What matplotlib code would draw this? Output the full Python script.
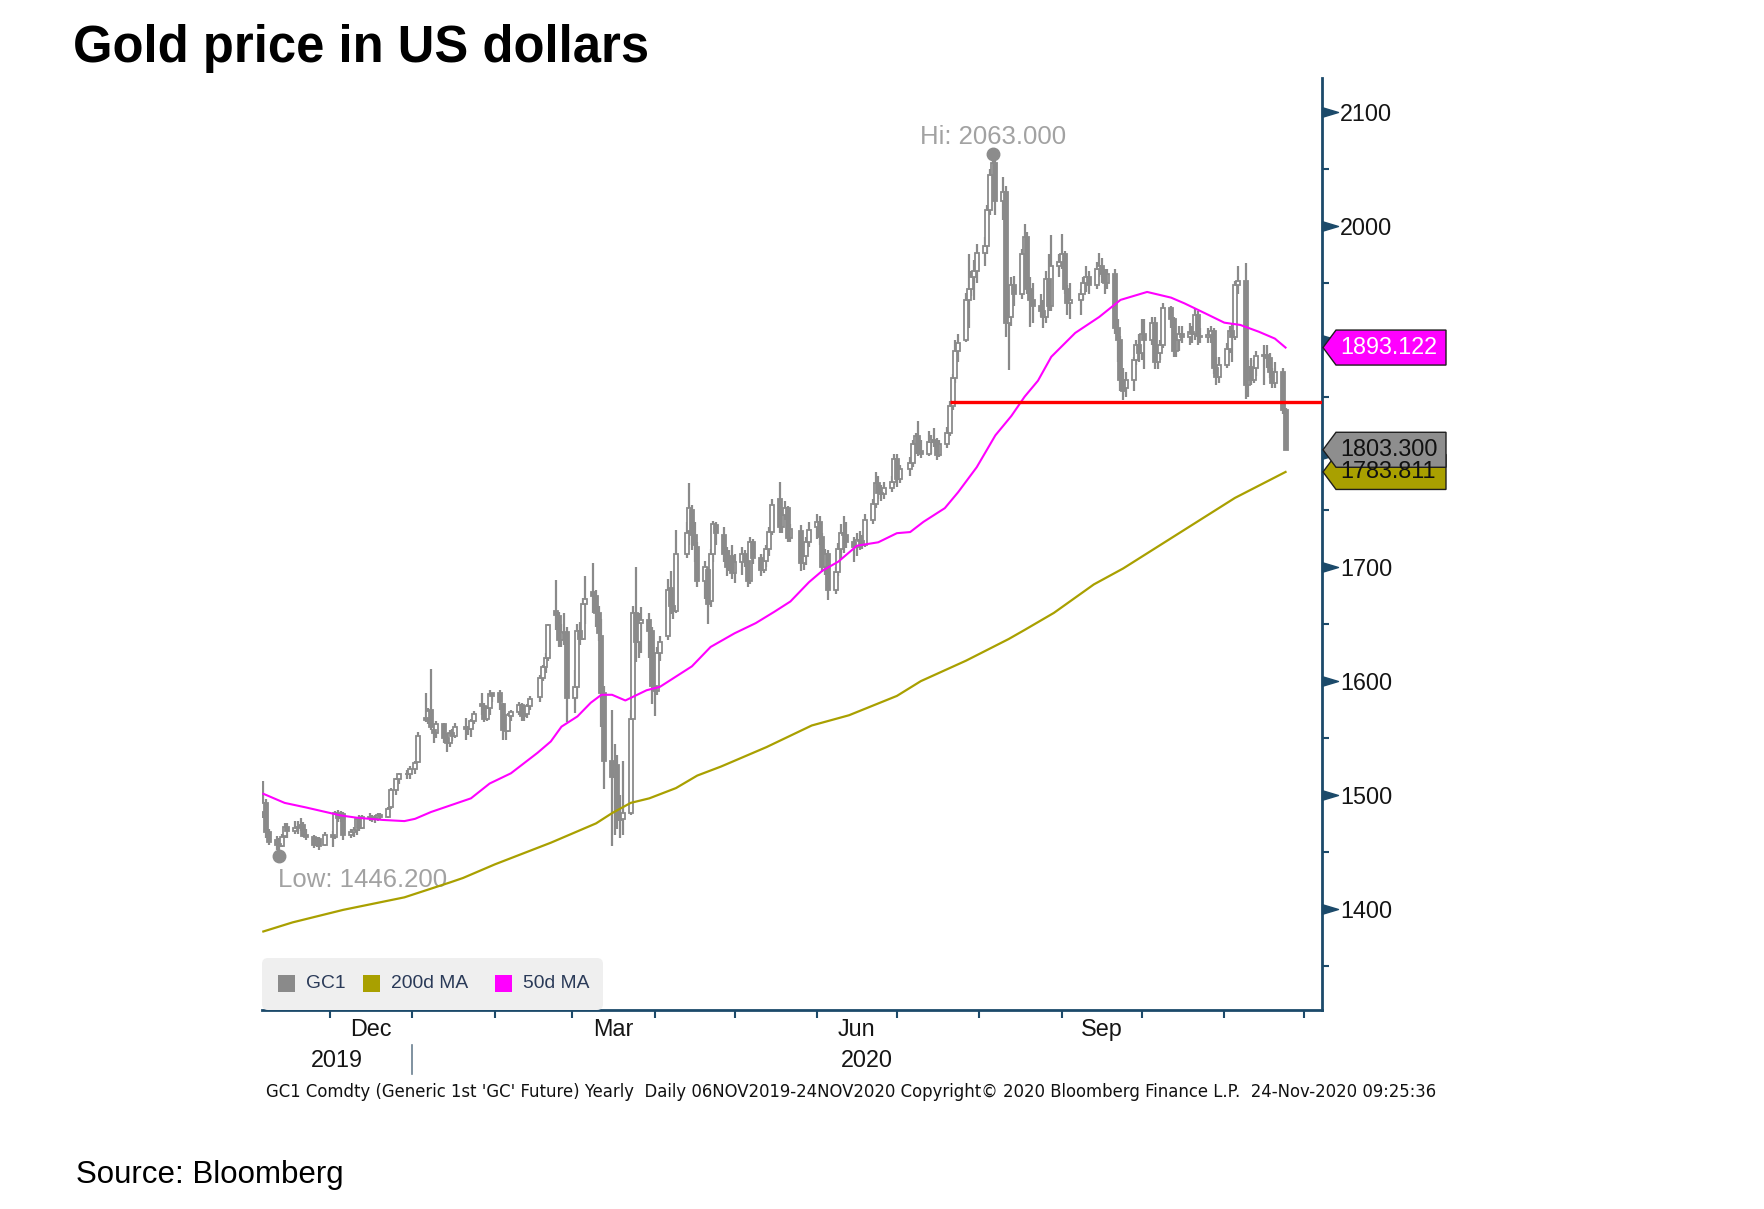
import numpy as np
import pandas as pd
import matplotlib
matplotlib.use("Agg")
import matplotlib.pyplot as plt
import matplotlib.dates as mdates
from matplotlib import font_manager as fm
from matplotlib.patches import Polygon, FancyBboxPatch, Rectangle
from matplotlib.path import Path
from matplotlib.transforms import blended_transform_factory, Affine2D

# ---------------- data ----------------
start_date = "2019-11-06"
end_date = "2020-11-24"
holidays = ["2019-11-28", "2019-12-25", "2020-01-01", "2020-01-20", "2020-02-17",
            "2020-04-10", "2020-05-25", "2020-07-03", "2020-09-07"]

opens = [
    1485, 1493, 1467, 1460, 1457, 1455, 1464, 1472, 1468, 1471, 1472, 1474, 1465, 1463, 1456, 1461, 1456,
    1465, 1463, 1484, 1480, 1483, 1465, 1467, 1469, 1479, 1471, 1481, 1480, 1480, 1479, 1482, 1481, 1489, 1504, 1514, 1518, 1518,
    1523, 1529, 1568, 1566, 1575, 1557, 1554, 1562, 1550, 1546, 1554, 1552, 1560, 1558, 1558, 1565, 1580, 1578, 1567, 1576, 1590,
    1590, 1580, 1556, 1556, 1569, 1573, 1579, 1569, 1571, 1578, 1586, 1603, 1612, 1620, 1662, 1657, 1636, 1642, 1643,
    1585, 1595, 1644, 1637, 1668, 1678, 1675, 1660, 1640, 1590, 1530, 1516, 1526, 1478, 1479, 1484, 1567, 1660, 1634, 1651, 1654, 1644,
    1596, 1591, 1625, 1640, 1682, 1666, 1662, 1712, 1732, 1750, 1728, 1718, 1688, 1698, 1670, 1712, 1737, 1728, 1712, 1700, 1710,
    1695, 1705, 1712, 1706, 1688, 1722, 1708, 1698, 1706, 1716, 1731, 1760, 1735, 1746, 1752, 1726, 1732, 1704, 1710, 1722,
    1735, 1740, 1727, 1700, 1712, 1680, 1696, 1716, 1730, 1728, 1722, 1718, 1724, 1723, 1720, 1742, 1756, 1774, 1765, 1764, 1770, 1775,
    1795, 1778, 1786, 1792, 1808, 1815, 1802, 1800, 1810, 1812, 1810, 1799, 1808, 1818, 1842, 1866, 1890, 1900, 1935, 1945, 1955, 1960,
    1976, 1982, 2014, 2045, 2055, 2022, 2030, 1915, 1920, 1948, 1940, 1975, 1990, 1945, 1935, 1930, 1925, 1920, 1953, 1930, 1965,
    1968, 1975, 1945, 1932, 1935, 1940, 1950, 1955, 1948, 1962, 1965, 1958, 1950, 1958, 1910, 1900, 1865, 1858, 1865, 1882, 1895,
    1888, 1905, 1900, 1915, 1880, 1888, 1895, 1928, 1918, 1890, 1900, 1905, 1902, 1907, 1905, 1922, 1903, 1902, 1904, 1908, 1875, 1867,
    1878, 1892, 1908, 1902, 1948, 1952, 1860, 1876, 1865, 1875, 1886, 1887, 1884, 1872, 1862, 1872, 1838,
]
highs = [
    1512, 1496, 1470, 1464, 1462, 1466, 1475, 1475, 1477, 1477, 1480, 1476, 1470, 1465, 1463, 1463, 1467,
    1468, 1486, 1487, 1486, 1485, 1470, 1472, 1481, 1482, 1482, 1484, 1482, 1482, 1484, 1484, 1489, 1506, 1515, 1519, 1522, 1525,
    1530, 1555, 1590, 1576, 1611, 1560, 1565, 1563, 1554, 1557, 1558, 1563, 1568, 1561, 1567, 1574, 1590, 1581, 1578, 1592, 1590,
    1592, 1581, 1561, 1572, 1575, 1582, 1581, 1573, 1580, 1587, 1605, 1614, 1625, 1650, 1689, 1661, 1650, 1660, 1648,
    1610, 1650, 1652, 1673, 1692, 1704, 1680, 1666, 1655, 1596, 1575, 1545, 1535, 1500, 1530, 1575, 1666, 1700, 1660, 1665, 1660, 1648,
    1608, 1630, 1640, 1690, 1697, 1672, 1733, 1740, 1774, 1755, 1740, 1722, 1706, 1700, 1716, 1741, 1740, 1735, 1718, 1715, 1720,
    1712, 1718, 1715, 1710, 1727, 1725, 1712, 1712, 1720, 1735, 1760, 1775, 1750, 1758, 1754, 1738, 1737, 1716, 1727, 1740,
    1747, 1745, 1730, 1716, 1715, 1700, 1721, 1738, 1745, 1740, 1727, 1730, 1732, 1728, 1747, 1760, 1784, 1780, 1772, 1775, 1780, 1800,
    1800, 1790, 1797, 1812, 1818, 1829, 1812, 1820, 1816, 1822, 1814, 1812, 1823, 1846, 1870, 1900, 1905, 1941, 1975, 1960, 1970, 1984,
    1990, 2018, 2050, 2063, 2060, 2043, 2035, 1945, 1955, 1956, 1980, 2002, 1995, 1955, 1950, 1940, 1935, 1960, 1975, 1992, 1975,
    1993, 1978, 1948, 1950, 1945, 1955, 1965, 1960, 1968, 1976, 1972, 1962, 1962, 1962, 1918, 1903, 1875, 1872, 1885, 1900, 1905,
    1918, 1918, 1920, 1920, 1892, 1900, 1932, 1930, 1920, 1905, 1912, 1912, 1915, 1912, 1928, 1925, 1910, 1910, 1912, 1910, 1885, 1885,
    1897, 1912, 1915, 1952, 1965, 1967, 1882, 1884, 1882, 1890, 1895, 1895, 1888, 1875, 1880, 1875, 1840,
]
lows = [
    1480, 1462, 1456, 1452, 1446.2, 1454, 1462, 1462, 1466, 1466, 1468, 1463, 1460, 1453, 1454, 1452, 1455,
    1454, 1461, 1476, 1476, 1460, 1462, 1463, 1465, 1468, 1470, 1477, 1476, 1475, 1477, 1478, 1480, 1488, 1500, 1510, 1514, 1514,
    1518, 1528, 1564, 1562, 1557, 1546, 1550, 1546, 1538, 1542, 1547, 1550, 1548, 1553, 1551, 1562, 1570, 1564, 1565, 1570, 1582,
    1575, 1548, 1548, 1555, 1565, 1570, 1565, 1565, 1568, 1575, 1582, 1600, 1607, 1618, 1645, 1630, 1630, 1632, 1564,
    1572, 1585, 1632, 1636, 1650, 1660, 1648, 1635, 1560, 1505, 1455, 1465, 1470, 1462, 1465, 1482, 1567, 1617, 1620, 1625, 1620, 1580,
    1569, 1588, 1618, 1636, 1659, 1655, 1660, 1708, 1720, 1715, 1705, 1683, 1672, 1650, 1665, 1705, 1720, 1705, 1692, 1697, 1690,
    1686, 1693, 1700, 1683, 1685, 1703, 1692, 1695, 1700, 1710, 1728, 1730, 1730, 1742, 1722, 1722, 1697, 1698, 1702, 1718,
    1725, 1720, 1696, 1693, 1671, 1677, 1692, 1708, 1713, 1717, 1705, 1710, 1715, 1716, 1718, 1738, 1752, 1760, 1758, 1760, 1766, 1772,
    1771, 1774, 1780, 1788, 1800, 1798, 1796, 1798, 1800, 1806, 1794, 1797, 1805, 1815, 1838, 1862, 1880, 1898, 1910, 1938, 1935, 1950,
    1965, 1975, 2010, 2035, 2010, 2005, 1902, 1873, 1912, 1930, 1936, 1970, 1940, 1911, 1915, 1920, 1910, 1915, 1925, 1925, 1955,
    1962, 1940, 1922, 1918, 1922, 1935, 1942, 1940, 1945, 1955, 1950, 1940, 1945, 1905, 1880, 1855, 1847, 1850, 1855, 1878, 1880,
    1882, 1874, 1895, 1874, 1874, 1882, 1893, 1910, 1885, 1885, 1890, 1897, 1895, 1897, 1900, 1895, 1897, 1897, 1897, 1870, 1860, 1862,
    1875, 1888, 1880, 1900, 1940, 1848, 1850, 1860, 1862, 1868, 1860, 1875, 1866, 1858, 1858, 1835, 1803,
]
closes = [
    1493, 1467, 1459, 1456, 1455, 1463, 1472, 1468, 1471, 1472, 1474, 1464, 1463, 1456, 1461, 1455, 1465,
    1463, 1484, 1480, 1483, 1465, 1467, 1469, 1479, 1471, 1481, 1480, 1480, 1479, 1482, 1481, 1488, 1504, 1514, 1518, 1518, 1523,
    1528, 1552, 1566, 1574, 1560, 1554, 1562, 1550, 1546, 1554, 1552, 1560, 1558, 1558, 1565, 1571, 1578, 1567, 1576, 1589, 1587,
    1582, 1557, 1557, 1570, 1573, 1579, 1569, 1571, 1578, 1584, 1603, 1612, 1620, 1649, 1658, 1636, 1643, 1642, 1585,
    1595, 1644, 1637, 1668, 1672, 1675, 1660, 1642, 1590, 1530, 1516, 1526, 1478, 1479, 1484, 1567, 1660, 1634, 1651, 1654, 1644, 1596,
    1591, 1625, 1634, 1680, 1666, 1662, 1712, 1730, 1752, 1728, 1720, 1688, 1700, 1668, 1712, 1738, 1730, 1712, 1700, 1708, 1695,
    1705, 1712, 1706, 1688, 1722, 1708, 1698, 1706, 1716, 1731, 1755, 1735, 1746, 1752, 1726, 1734, 1704, 1710, 1722, 1733,
    1740, 1727, 1700, 1712, 1680, 1696, 1716, 1730, 1728, 1722, 1718, 1724, 1723, 1720, 1742, 1756, 1774, 1765, 1764, 1770, 1775, 1795,
    1778, 1786, 1792, 1808, 1815, 1802, 1800, 1810, 1812, 1810, 1799, 1808, 1818, 1842, 1866, 1890, 1897, 1935, 1945, 1955, 1960, 1976,
    1982, 2014, 2045, 2055, 2022, 2030, 1915, 1920, 1948, 1940, 1975, 1990, 1945, 1935, 1930, 1925, 1920, 1953, 1930, 1965, 1968,
    1975, 1945, 1932, 1935, 1940, 1950, 1955, 1948, 1962, 1965, 1958, 1950, 1958, 1910, 1900, 1865, 1855, 1865, 1882, 1895, 1888,
    1905, 1900, 1915, 1880, 1888, 1895, 1928, 1918, 1890, 1900, 1905, 1902, 1907, 1905, 1922, 1903, 1902, 1904, 1908, 1875, 1867, 1878,
    1892, 1908, 1902, 1948, 1952, 1860, 1876, 1865, 1875, 1886, 1887, 1884, 1872, 1862, 1872, 1838, 1803.3,
]

ma50_dates = ["2019-11-06", "2019-11-14", "2019-11-22", "2019-12-05", "2019-12-11", "2019-12-21",
              "2019-12-29", "2020-01-02", "2020-01-08", "2020-01-18", "2020-01-23", "2020-01-30",
              "2020-02-07", "2020-02-17", "2020-02-22", "2020-02-26", "2020-03-03", "2020-03-08",
              "2020-03-12", "2020-03-16", "2020-03-21", "2020-03-29", "2020-04-03", "2020-04-09",
              "2020-04-15", "2020-04-22", "2020-05-01", "2020-05-09", "2020-05-16", "2020-05-22",
              "2020-05-29", "2020-06-03", "2020-06-09", "2020-06-16", "2020-06-24", "2020-07-01",
              "2020-07-06", "2020-07-11", "2020-07-19", "2020-07-24", "2020-07-31", "2020-08-07",
              "2020-08-13", "2020-08-18", "2020-08-23", "2020-08-28", "2020-09-06", "2020-09-15",
              "2020-09-23", "2020-10-03", "2020-10-12", "2020-10-17", "2020-10-25", "2020-11-01",
              "2020-11-07", "2020-11-14", "2020-11-20", "2020-11-24"]
ma50_values = [1501, 1493, 1489, 1482, 1480, 1478,
               1477, 1479, 1485, 1493, 1497, 1510,
               1519, 1537, 1547, 1560, 1569, 1581,
               1588, 1588, 1583, 1592, 1595, 1604,
               1613, 1630, 1642, 1651, 1661, 1670,
               1687, 1697, 1705, 1719, 1722, 1730,
               1731, 1740, 1752, 1766, 1788, 1816,
               1833, 1850, 1864, 1885, 1906, 1920,
               1935, 1942, 1937, 1932, 1923, 1915,
               1913, 1907, 1901, 1893.122]

ma200_dates = ["2019-11-06", "2019-11-17", "2019-12-06", "2019-12-29", "2020-01-15", "2020-01-20",
               "2020-02-01", "2020-02-22", "2020-03-10", "2020-03-16", "2020-03-23", "2020-03-30",
               "2020-04-09", "2020-04-17", "2020-04-26", "2020-05-13", "2020-05-30", "2020-06-13",
               "2020-07-01", "2020-07-10", "2020-07-27", "2020-08-12", "2020-08-18", "2020-08-29",
               "2020-09-07", "2020-09-13", "2020-09-24", "2020-10-15", "2020-11-05", "2020-11-24"]
ma200_values = [1380, 1388, 1399, 1410, 1423, 1427,
                1439, 1458, 1475, 1484, 1493, 1497,
                1506, 1517, 1525, 1542, 1561, 1570,
                1587, 1600, 1618, 1637, 1645, 1660,
                1675, 1685, 1699, 1730, 1761, 1783.811]

support_level = 1845.5
support_start = "2020-07-21"
hi_date, hi_value = "2020-08-06", 2063.000
low_date, low_value = "2019-11-12", 1446.200
last_price = 1803.300

y_major = [1400, 1500, 1600, 1700, 1800, 1900, 2000, 2100]
y_major_labels = ["1400", "1500", "1600", "1700", "", "", "2000", "2100"]
y_minor = [1350, 1450, 1550, 1650, 1750, 1850, 1950, 2050]
month_labels = ["Dec", "Mar", "Jun", "Sep"]
month_label_dates = [("2019-12-01", "2020-01-01"), ("2020-03-01", "2020-04-01"),
                     ("2020-06-01", "2020-07-01"), ("2020-09-01", "2020-10-01")]
year_labels = ["2019", "2020"]
legend_labels = ["GC1", "200d MA", "50d MA"]
title = "Gold price in US dollars"
source = "Source: Bloomberg"
footer = ("GC1 Comdty (Generic 1st 'GC' Future) Yearly  Daily 06NOV2019-24NOV2020 "
          "Copyright\u00a9 2020 Bloomberg Finance L.P.  24-Nov-2020 09:25:36")

# ---------------- styling ----------------
W, H = 1764, 1209
NAVY = "#1c4a6a"
GRAY = "#8a8a8a"
MAGENTA = "#ff00ff"
OLIVE = "#a9a000"

names = {f.name for f in fm.fontManager.ttflist}
if "Liberation Sans Narrow" in names:
    NARROW, NS = "Liberation Sans Narrow", 1.0
else:
    NARROW, NS = "Liberation Sans", 0.84
REG = "Liberation Sans" if "Liberation Sans" in names else "DejaVu Sans"

fig = plt.figure(figsize=(W / 100, H / 100), dpi=100)
fig.patch.set_facecolor("white")
PX = Affine2D().scale(1, -1).translate(0, H)  # pixel coords (top-left origin) -> display

ax = fig.add_axes([262 / W, 1 - 1010 / H, (1322 - 262) / W, (1010 - 78) / H])

dates = pd.bdate_range(start_date, end_date, freq="C", holidays=holidays)
n = min(len(dates), len(closes))
x = mdates.date2num(dates[:n])
o = np.array(opens[:n], float)
h = np.array(highs[:n], float)
l = np.array(lows[:n], float)
c = np.array(closes[:n], float)
up = c >= o

ax.vlines(x, l, h, color=GRAY, lw=1.6, zorder=2)
bot = np.minimum(o, c)
hgt = np.maximum(np.abs(c - o), 0.6)
ax.bar(x[up], hgt[up], bottom=bot[up], width=1.5, facecolor="white",
       edgecolor=GRAY, linewidth=1.3, zorder=3)
ax.bar(x[~up], hgt[~up], bottom=bot[~up], width=1.5, facecolor=GRAY,
       edgecolor=GRAY, linewidth=1.3, zorder=3)

ax.plot(mdates.date2num(pd.to_datetime(ma200_dates)), ma200_values, color=OLIVE, lw=1.6, zorder=4)
ax.plot(mdates.date2num(pd.to_datetime(ma50_dates)), ma50_values, color=MAGENTA, lw=1.5, zorder=4)

x_left = mdates.date2num(pd.Timestamp(start_date)) - 0.5
x_right = mdates.date2num(pd.Timestamp("2020-12-07")) + 0.7
ax.set_xlim(x_left, x_right)
ax.set_ylim(1311, 2130)

ax.plot([mdates.date2num(pd.Timestamp(support_start)), x_right], [support_level, support_level],
        color="#ff0000", lw=2.4, zorder=5, solid_capstyle="butt")

# hi / low markers
xh = mdates.date2num(pd.Timestamp(hi_date))
xl = mdates.date2num(pd.Timestamp(low_date))
ax.plot([xh], [hi_value], "o", color="#8c8c8c", ms=9, zorder=6, clip_on=False)
ax.plot([xl], [low_value], "o", color="#8c8c8c", ms=9, zorder=6, clip_on=False)
ax.annotate(f"Hi: {hi_value:.3f}", xy=(xh, hi_value), xytext=(0, 10), textcoords="offset pixels",
            ha="center", va="baseline", color="#a2a2a2", fontsize=18.5, family=REG)
ax.annotate(f"Low: {low_value:.3f}", xy=(xl, low_value), xytext=(-1, -31), textcoords="offset pixels",
            ha="left", va="baseline", color="#a2a2a2", fontsize=18.5, family=REG)

# spines
for s in ["left", "top"]:
    ax.spines[s].set_visible(False)
for s in ["right", "bottom"]:
    ax.spines[s].set_color(NAVY)
    ax.spines[s].set_linewidth(2)

# y axis
ax.yaxis.tick_right()
ax.set_yticks(y_major)
ax.set_yticks(y_minor, minor=True)
ax.set_yticklabels(y_major_labels)
ax.tick_params(axis="y", which="major", length=0, pad=13, labelsize=20 * NS, labelcolor="#151515")
ax.tick_params(axis="y", which="minor", length=5, width=1.5, color=NAVY, direction="out")
for lab in ax.get_yticklabels():
    lab.set_fontfamily(NARROW)
tri = Path([(0, -0.3), (1, 0), (0, 0.3), (0, -0.3)],
           [Path.MOVETO, Path.LINETO, Path.LINETO, Path.CLOSEPOLY])
ax.plot(np.ones(len(y_major)), y_major, ls="none", marker=tri, ms=23, color=NAVY,
        transform=blended_transform_factory(ax.transAxes, ax.transData), clip_on=False, zorder=7)

# x axis
month_starts = pd.date_range("2019-12-01", "2020-12-01", freq="MS")
ax.set_xticks(mdates.date2num(month_starts))
ax.set_xticklabels([])
ax.tick_params(axis="x", which="major", length=6, width=1.5, color=NAVY, direction="out")
tb = blended_transform_factory(ax.transData, ax.transAxes)
for lab, (a, b) in zip(month_labels, month_label_dates):
    xm = (mdates.date2num(pd.Timestamp(a)) + mdates.date2num(pd.Timestamp(b))) / 2
    ax.text(xm, -0.0205, lab, transform=tb, ha="center", va="center",
            fontsize=20 * NS, family=NARROW, color="#151515")
x_jan = mdates.date2num(pd.Timestamp("2020-01-01"))
ax.text((x_left + x_jan) / 2, -0.0545, year_labels[0], transform=tb, ha="center", va="center",
        fontsize=20 * NS, family=NARROW, color="#151515")
ax.text((x_jan + x_right) / 2, -0.0545, year_labels[1], transform=tb, ha="center", va="center",
        fontsize=20 * NS, family=NARROW, color="#151515")
ax.plot([x_jan, x_jan], [-0.038, -0.069], transform=tb, color="#6a7f90", lw=1.2, clip_on=False)

# price tags on the right
def tag(value, fill, tcolor, label):
    yc = H - ax.transData.transform((x_left, value))[1]
    pts = [(1323, yc), (1336, yc - 17.5), (1446, yc - 17.5), (1446, yc + 17.5), (1336, yc + 17.5)]
    fig.add_artist(Polygon(pts, closed=True, facecolor=fill, edgecolor="#1e1e1e", lw=1.0, transform=PX))
    fig.text(1340, yc, label, transform=PX, ha="left", va="center", color=tcolor,
             fontsize=20 * NS, family=NARROW)

tag(ma50_values[-1], MAGENTA, "white", f"{ma50_values[-1]:.3f}")
tag(ma200_values[-1], OLIVE, "#111111", f"{ma200_values[-1]:.3f}")
tag(last_price, "#8e8e8e", "#111111", f"{last_price:.3f}")

# legend
fig.add_artist(FancyBboxPatch((262, 958), 341, 52, boxstyle="round,pad=0,rounding_size=6",
                              facecolor="#efefef", edgecolor="none", transform=PX))
leg_colors = [GRAY, OLIVE, MAGENTA]
leg_sq_x = [278, 363, 495]
for lab, col, sx in zip(legend_labels, leg_colors, leg_sq_x):
    fig.add_artist(Rectangle((sx, 975), 17, 17, facecolor=col, edgecolor="none", transform=PX))
    fig.text(sx + 28, 984, lab, transform=PX, ha="left", va="center", color="#2a3a58",
             fontsize=16.5 * NS, family=NARROW)

# titles and footers
fig.text(73, 62, title, transform=PX, ha="left", va="baseline", fontsize=36.5,
         fontweight="bold", family=REG, color="black")
fig.text(76, 1183, source, transform=PX, ha="left", va="baseline", fontsize=22.5,
         family=REG, color="black")
fig.text(266, 1092, footer, transform=PX, ha="left", va="center", fontsize=11.9,
         family="DejaVu Sans", color="#111111")

fig.savefig("out.png", dpi=100, facecolor="white")
